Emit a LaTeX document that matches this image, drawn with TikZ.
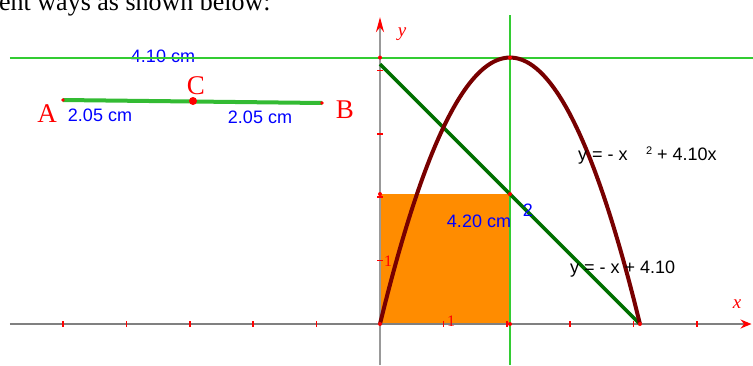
\documentclass[tikz,border=0pt]{standalone}
\usepackage{fontspec}
\setmainfont{Liberation Serif}
\newfontfamily\arialf{Liberation Sans}
\usetikzlibrary{arrows.meta}
\definecolor{lgreen}{RGB}{51,204,51}
\definecolor{sgreen}{RGB}{51,187,51}
\definecolor{dgreen}{RGB}{0,112,0}
\definecolor{maroonc}{RGB}{120,0,0}
\definecolor{orangec}{RGB}{255,140,0}
\definecolor{axisgray}{RGB}{128,128,128}
\definecolor{blabel}{RGB}{0,0,255}
\begin{document}
\begin{tikzpicture}[x=1pt,y=-1pt,
  guide/.style={draw=lgreen, line width=2pt},
  bluelab/.style={inner sep=0pt, text=blabel, font=\arialf\fontsize{18}{18}\selectfont},
  eqlab/.style={inner sep=0pt, text=black, font=\arialf\fontsize{18}{18}\selectfont, anchor=base west},
  serlab/.style={inner sep=0pt, text=red, font=\fontsize{27}{27}\selectfont},
  axlab/.style={inner sep=0pt, text=red, font=\itshape\fontsize{19}{19}\selectfont, anchor=base},
  numlab/.style={inner sep=0pt, text=red, font=\fontsize{16}{16}\selectfont},
  tickmark/.style={draw=red, line width=1.5pt},
  dotpt/.style={fill=red}
]
\useasboundingbox (0,0) rectangle (753,365);

% heading fragment
\node[anchor=base west, inner sep=0pt, font=\fontsize{26}{26}\selectfont] (head) at (-1,10) {ent ways as shown below:};

% segment AB with midpoint C
\coordinate (pA) at (63,100);
\coordinate (pB) at (322,103);
\coordinate (pC) at (193,101);
\node[bluelab] (l410) at (163,56) {4.10 cm};
\draw[draw=sgreen, line width=4pt] (pA) -- (pB);
\fill[dotpt] (pA) circle (1.8);
\fill[dotpt] (pB) circle (1.8);
\fill[dotpt] (pC) circle (4);
\node[serlab] (A) at (47,114) {A};
\node[serlab] (B) at (345,110) {B};
\node[serlab] (C) at (196,86) {C};
\node[bluelab] (lac) at (100,115) {2.05 cm};
\node[bluelab] (lcb) at (260,117) {2.05 cm};

\begin{scope}[shift={(380pt,-324pt)}, x=63.4pt, y=63.4pt]
  \coordinate (O) at (0,0);
  \coordinate (V) at (2.05,4.2025);
  \coordinate (Vy) at (0,4.2025);
  \coordinate (P) at (2.05,2.05);
  \coordinate (Py) at (0,2.05);
  \coordinate (Px) at (2.05,0);
  \coordinate (Z) at (4.1,0);
  \coordinate (L0) at (0,4.1);
  \coordinate (hl) at (-5.836,4.2025);
  \coordinate (hr) at (5.9,4.2025);
  \coordinate (vt) at (2.05,4.874);
  \coordinate (vb) at (2.05,-0.647);
  \coordinate (xl) at (-5.836,0);
  \coordinate (xr) at (5.86,0);
  \coordinate (yt) at (0,4.84);
  \coordinate (yb) at (0,-0.647);

  % square
  \fill[orangec] (O) rectangle (P);

  % horizontal guide line through the vertex
  \draw[guide] (hl) -- (hr);

  % axes
  \draw[draw=axisgray, line width=2pt, -{Stealth[red,length=11pt,width=9pt]}] (xl) -- (xr);
  \draw[draw=axisgray!80, line width=2pt, -{Stealth[red,length=15pt,width=8pt]}] (yb) -- (yt);
  \foreach \k in {-5,-4,-3,-2,-1,1,2,3,4,5}
    \draw[tickmark] (\k,0) ++(0,3pt) -- ++(0,-6pt);
  \foreach \k in {1,2,3,4}
    \draw[tickmark] (0,\k) ++(-3pt,0) -- ++(6pt,0);

  % vertical guide line
  \draw[guide] (vb) -- (vt);

  % line y = -x + 4.10
  \draw[draw=dgreen, line width=3.5pt] (L0) -- (Z);

  % parabola
  \draw[draw=maroonc, line width=4pt, line join=round]
    plot[domain=0:4.1, samples=120, smooth] (\x,{-(\x)^2+4.1*\x});

  % points
  \foreach \p in {O,V,Vy,P,Py,Px,Z}
    \fill[dotpt] (\p) circle (2pt);
\end{scope}

% axis labels
\node[axlab] (xlab) at (737,308) {x};
\node[axlab] (ylab) at (402,36) {y};
\node[numlab] (one x) at (451,321) {1};
\node[numlab] (one y) at (388,261) {1};

% area label
\node[bluelab] (area) at (479,221.5) {4.20 cm};
\node[bluelab] (sq) at (528,210) {2};

% equations
\node[eqlab] (eq1a) at (578,160) {y = - x};
\node[eqlab, font=\arialf\fontsize{11}{11}\selectfont] (eq1b) at (646,154) {2};
\node[eqlab] (eq1c) at (657,160) {+ 4.10x};
\node[eqlab] (eq2) at (570,273) {y = - x + 4.10};
\end{tikzpicture}
\end{document}
